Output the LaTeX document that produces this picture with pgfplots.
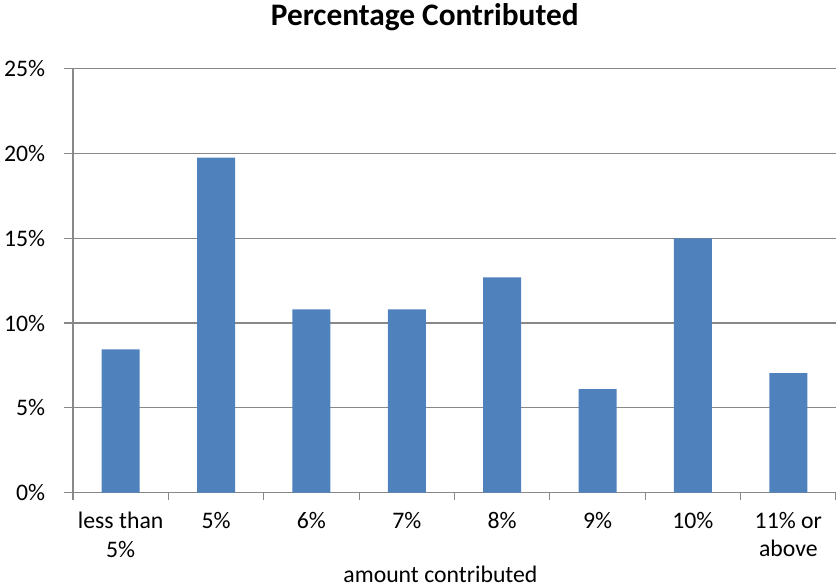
\documentclass[border=0pt]{standalone}
\usepackage{fontspec}
\setmainfont{Carlito}
\usepackage{pgfplots}
\pgfplotsset{compat=1.18}

\definecolor{barblue}{HTML}{4F81BD}
\definecolor{gridgray}{HTML}{888888}

\begin{document}
\begin{tikzpicture}
\path[use as bounding box] (0,0) rectangle (627pt,441pt);
\begin{axis}[
  at={(54.75pt,71.5pt)}, anchor=south west,
  width=572.25pt, height=318pt, scale only axis,
  /pgf/number format/assume math mode=true,
  ymin=0, ymax=25, ytick={0,5,...,25},
  yticklabel={\pgfmathprintnumber{\tick}\%},
  xmin=-0.5, xmax=7.5,
  xtick={0,...,7},
  xticklabels={{less than\\5\%},{5\%},{6\%},{7\%},{8\%},{9\%},{10\%},{11\% or\\above}},
  minor xtick={-0.5,0.5,...,7.5},
  major x tick style={draw=none},
  minor x tick style={draw=gridgray, line width=0.9pt},
  y tick style={draw=gridgray, line width=0.9pt},
  tick align=outside,
  major tick length=6.5pt, minor tick length=5.5pt,
  axis x line*=bottom, axis y line*=left,
  axis line style={draw=gridgray, line width=0.9pt, -},
  ymajorgrids, major grid style={draw=gridgray, line width=0.9pt},
  ticklabel style={font=\fontsize{17.8}{21.4}\selectfont, text=black},
  xticklabel style={align=center, anchor=north, inner sep=0pt, yshift=-8pt},
  yticklabel style={anchor=east, inner sep=0pt, xshift=-14.25pt},
  ybar, bar width=28.5pt,
  clip=false,
]
\addplot[fill=barblue, draw=none] coordinates {
  (0,8.45) (1,19.75) (2,10.8) (3,10.8) (4,12.7) (5,6.1) (6,15.0) (7,7.05)
};
\node[anchor=base, font=\fontsize{23.5}{28}\selectfont\bfseries] at (axis description cs:0.461,1.1007) {Percentage Contributed};
\node[anchor=base, font=\fontsize{17.8}{21.4}\selectfont] at (axis description cs:0.4816,-0.213) {amount contributed};
\end{axis}
\end{tikzpicture}
\end{document}
